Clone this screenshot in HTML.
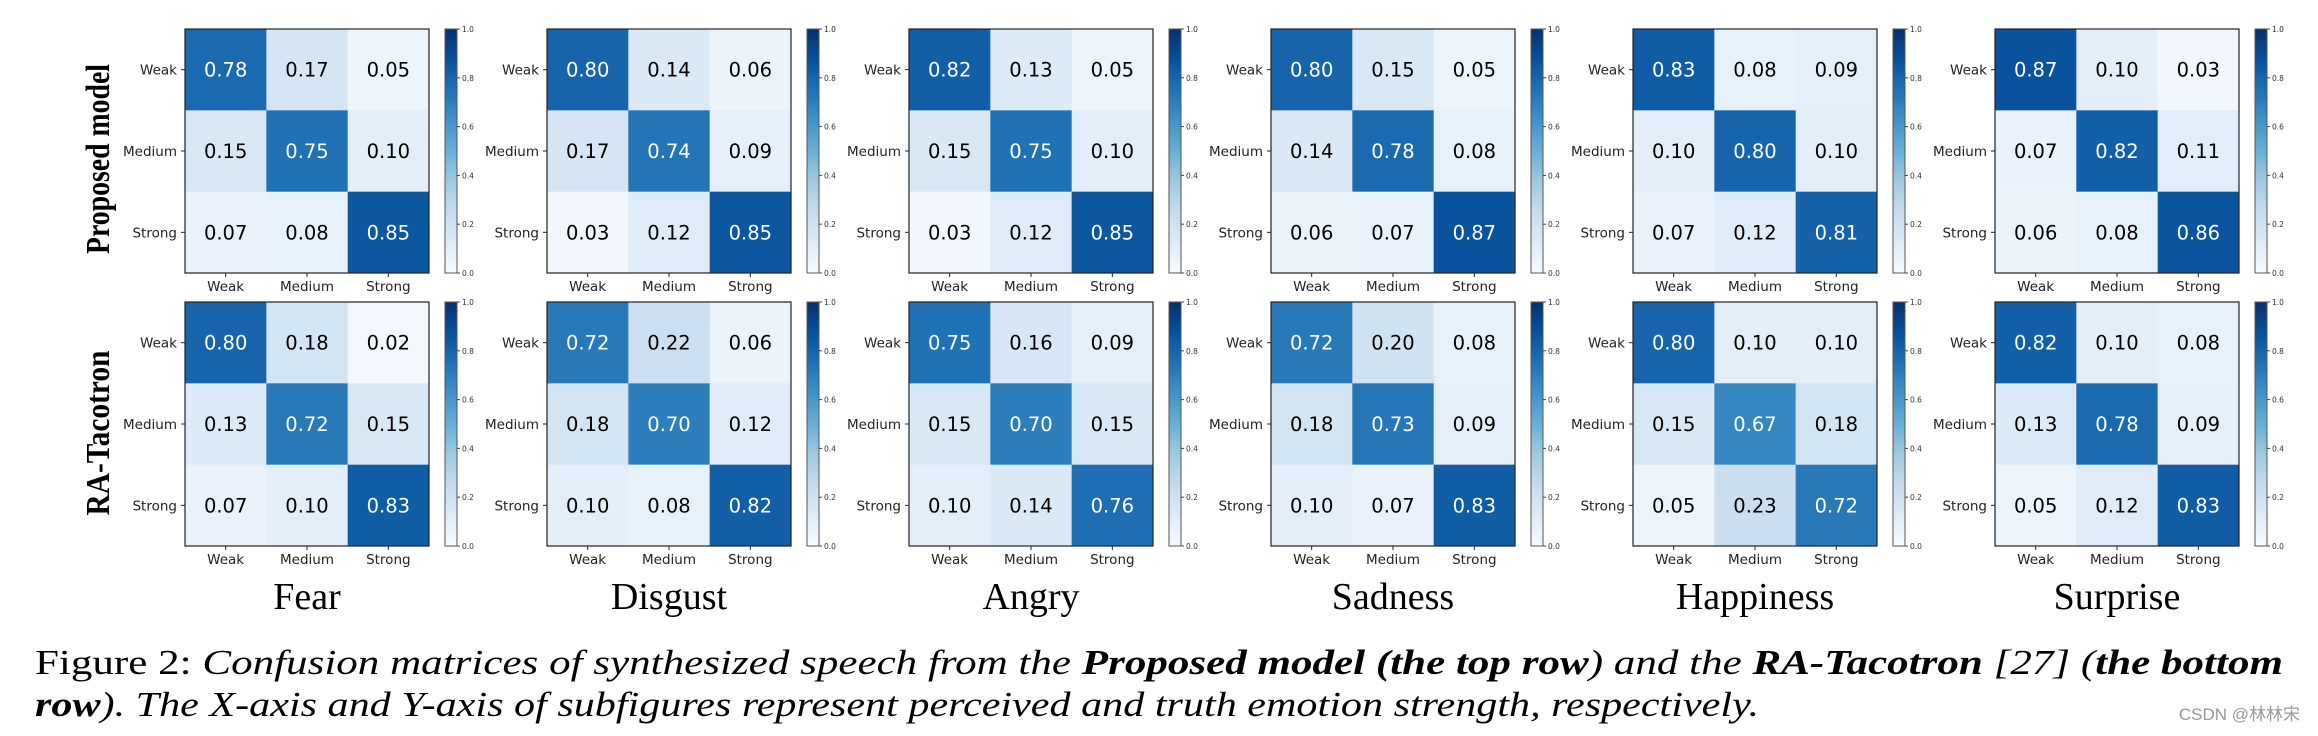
<!DOCTYPE html>
<html><head><meta charset="utf-8"><style>
html,body{margin:0;padding:0;background:#fff;}
svg{display:block;}
</style></head><body>
<svg id="fig" width="2318" height="736" xmlns="http://www.w3.org/2000/svg" font-family="'DejaVu Sans', sans-serif">
<defs>
<linearGradient id="blues" x1="0" y1="1" x2="0" y2="0">
<stop offset="0" stop-color="#f7fbff"/><stop offset="0.125" stop-color="#deebf7"/><stop offset="0.25" stop-color="#c6dbef"/><stop offset="0.375" stop-color="#9ecae1"/><stop offset="0.5" stop-color="#6baed6"/><stop offset="0.625" stop-color="#4292c6"/><stop offset="0.75" stop-color="#2171b5"/><stop offset="0.875" stop-color="#08519c"/><stop offset="1" stop-color="#08306b"/>
</linearGradient>
</defs>
<g id="panels"></g>
<text transform="translate(109,159) rotate(-90)" text-anchor="middle" font-family="'Liberation Serif',serif" font-weight="bold" font-size="34" textLength="190" lengthAdjust="spacingAndGlyphs">Proposed model</text>
<text transform="translate(109,433) rotate(-90)" text-anchor="middle" font-family="'Liberation Serif',serif" font-weight="bold" font-size="34" textLength="165" lengthAdjust="spacingAndGlyphs">RA-Tacotron</text>
<text x="35" y="674" font-family="'Liberation Serif',serif" font-size="35" textLength="2248" lengthAdjust="spacingAndGlyphs">Figure 2:  <tspan font-style="italic">Confusion matrices of synthesized speech from the </tspan><tspan font-style="italic" font-weight="bold">Proposed model (the top row</tspan><tspan font-style="italic">) and the </tspan><tspan font-style="italic" font-weight="bold">RA-Tacotron</tspan><tspan font-style="italic"> [27] (</tspan><tspan font-style="italic" font-weight="bold">the bottom</tspan></text>
<text x="35" y="716" font-family="'Liberation Serif',serif" font-size="35" font-style="italic" textLength="1724" lengthAdjust="spacingAndGlyphs"><tspan font-weight="bold">row</tspan>). The X-axis and Y-axis of subfigures represent perceived and truth emotion strength, respectively.</text>
<text x="2300" y="720" text-anchor="end" font-family="'Liberation Sans','Noto Sans CJK SC',sans-serif" font-size="17" fill="#999">CSDN @林林宋</text>
</svg>
<script>
const emotions = ["Fear","Disgust","Angry","Sadness","Happiness","Surprise"];
const classes = ["Weak","Medium","Strong"];
const cbTicks = ["0.0","0.2","0.4","0.6","0.8","1.0"];
const proposed = [
 [[.78,.17,.05],[.15,.75,.10],[.07,.08,.85]],
 [[.80,.14,.06],[.17,.74,.09],[.03,.12,.85]],
 [[.82,.13,.05],[.15,.75,.10],[.03,.12,.85]],
 [[.80,.15,.05],[.14,.78,.08],[.06,.07,.87]],
 [[.83,.08,.09],[.10,.80,.10],[.07,.12,.81]],
 [[.87,.10,.03],[.07,.82,.11],[.06,.08,.86]]
];
const raTacotron = [
 [[.80,.18,.02],[.13,.72,.15],[.07,.10,.83]],
 [[.72,.22,.06],[.18,.70,.12],[.10,.08,.82]],
 [[.75,.16,.09],[.15,.70,.15],[.10,.14,.76]],
 [[.72,.20,.08],[.18,.73,.09],[.10,.07,.83]],
 [[.80,.10,.10],[.15,.67,.18],[.05,.23,.72]],
 [[.82,.10,.08],[.13,.78,.09],[.05,.12,.83]]
];
const stops=[[247,251,255],[222,235,247],[198,219,239],[158,202,225],[107,174,214],[66,146,198],[33,113,181],[8,81,156],[8,48,107]];
function blues(v){v=Math.max(0,Math.min(1,v));const p=v*8,i=Math.min(7,Math.floor(p)),t=p-i;const a=stops[i],b=stops[i+1];return `rgb(${a.map((c,k)=>Math.round(c+(b[k]-c)*t)).join(',')})`;}
const NS="http://www.w3.org/2000/svg";
const root=document.getElementById('panels');
function mk(tag,attrs,parent){const e=document.createElementNS(NS,tag);for(const k in attrs)e.setAttribute(k,attrs[k]);parent.appendChild(e);return e;}
const size=244, cell=size/3;
function panel(ei,row,data){
  const x0=185+362*ei, y0=row===0?29:302;
  const g=mk('g',{},root);
  
  
  const cx=i=>x0+i*cell, cy=j=>y0+j*cell;
  data.forEach((r,j)=>r.forEach((v,i)=>{
    const rc=mk('rect',{x:cx(i),y:cy(j),width:cell+0.5,height:cell+0.5,fill:blues(v)},g);
    
    
    const t=mk('text',{x:cx(i)+cell/2,y:cy(j)+cell/2+7,'text-anchor':'middle','font-size':19.5,fill:v>0.5?'#fff':'#000'},g);
    t.textContent=v.toFixed(2);
    
    
  }));
  mk('rect',{x:x0,y:y0,width:size,height:size,fill:'none',stroke:'#222','stroke-width':1.2},g);
  classes.forEach((c,k)=>{
    const yl=mk('text',{x:x0-8,y:cy(k)+cell/2+5,'text-anchor':'end','font-size':13.5,fill:'#222'},g);
    yl.textContent=c;
    
    
    mk('line',{x1:x0-4,x2:x0,y1:cy(k)+cell/2,y2:cy(k)+cell/2,stroke:'#222'},g);
    const xl=mk('text',{x:cx(k)+cell/2,y:y0+size+18,'text-anchor':'middle','font-size':13.5,fill:'#222'},g);
    xl.textContent=c;
    
    
    mk('line',{x1:cx(k)+cell/2,x2:cx(k)+cell/2,y1:y0+size,y2:y0+size+4,stroke:'#222'},g);
  });
  const bx=x0+260;
  const cb=mk('rect',{x:bx,y:y0,width:12,height:size,fill:'url(#blues)',stroke:'#555','stroke-width':1},g);
  
  
  cbTicks.forEach((s,k)=>{
    const ty=y0+size-size*parseFloat(s);
    mk('line',{x1:bx+12,x2:bx+15,y1:ty,y2:ty,stroke:'#444'},g);
    const tt=mk('text',{x:bx+17,y:ty+3,'font-size':7.5,fill:'#333'},g);
    tt.textContent=s;
    
    
  });
  if(row===1){
    const tl=mk('text',{x:x0+size/2,y:609,'text-anchor':'middle','font-family':"'Liberation Serif',serif",'font-size':38},g);
    tl.textContent=emotions[ei];
    
    
  }
}
emotions.forEach((e,i)=>{panel(i,0,proposed[i]);panel(i,1,raTacotron[i]);});
</script>
</body></html>
